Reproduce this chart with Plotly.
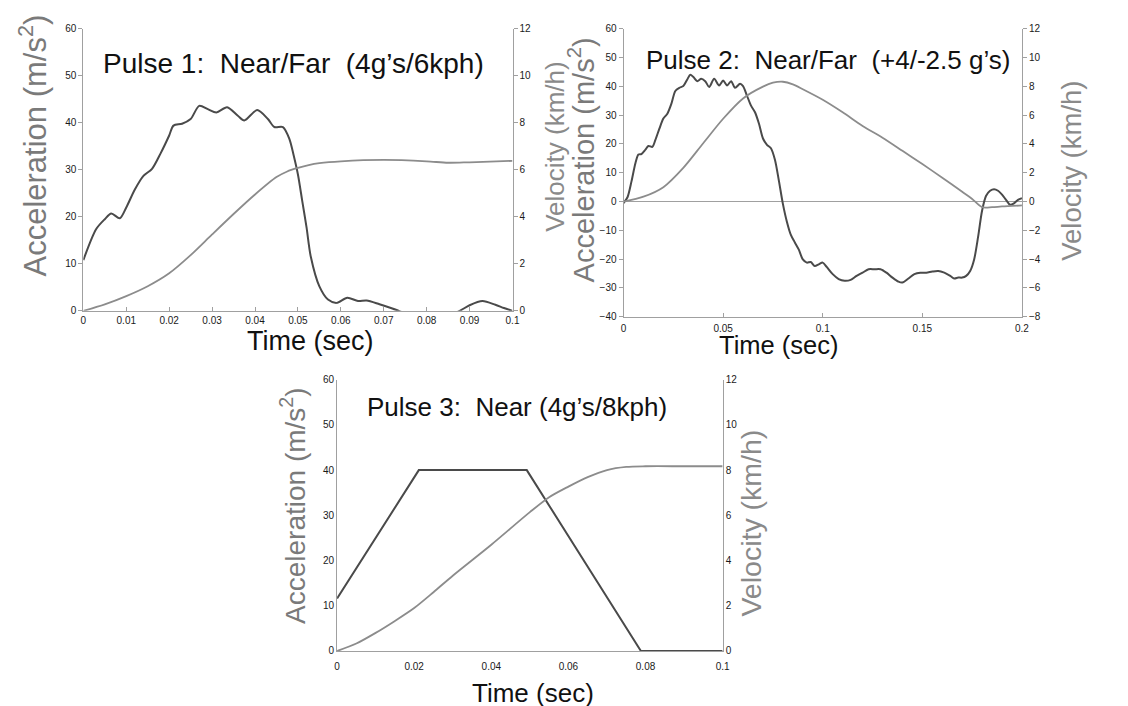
import plotly.graph_objects as go

# ---------------- Data ----------------
# Pulse 1
p1_acc_t = [0, 0.003, 0.005, 0.0065, 0.0085, 0.010, 0.012, 0.014, 0.016, 0.018, 0.020, 0.021, 0.023,
            0.025, 0.027, 0.029, 0.031, 0.0335, 0.036, 0.0375, 0.0405, 0.043, 0.0445, 0.0465, 0.048,
            0.049, 0.050, 0.051, 0.052, 0.053, 0.055, 0.057, 0.059, 0.0615, 0.064, 0.066, 0.069,
            0.072, 0.0735, 0.077, 0.081, 0.085, 0.0877, 0.090, 0.093, 0.096, 0.098, 0.100]
p1_acc = [10.8, 17.4, 19.5, 20.7, 19.7, 22.0, 25.8, 28.7, 30.2, 33.5, 37.3, 39.4, 39.8,
          40.8, 43.6, 42.9, 42.2, 43.3, 41.5, 40.5, 42.7, 40.8, 39.1, 39.1, 36.6,
          33.1, 29.0, 23.4, 17.8, 11.5, 5.2, 2.4, 1.7, 2.8, 2.1, 2.2, 1.4,
          0.5, 0.0, -1.2, -1.6, -1.0, 0.0, 1.2, 2.1, 1.3, 0.6, 0.0]
p1_vel_t = [0, 0.005, 0.010, 0.015, 0.020, 0.025, 0.030, 0.035, 0.040, 0.045, 0.0475, 0.050,
            0.0525, 0.055, 0.060, 0.070, 0.080, 0.085, 0.090, 0.100]
p1_vel = [0, 0.28, 0.63, 1.05, 1.6, 2.37, 3.25, 4.12, 4.95, 5.69, 5.93, 6.08,
          6.2, 6.28, 6.36, 6.42, 6.36, 6.3, 6.32, 6.38]

# Pulse 2
p2_acc_t = [0, 0.002, 0.004, 0.006, 0.0075, 0.009, 0.011, 0.0125, 0.0145, 0.016, 0.018, 0.020,
            0.022, 0.024, 0.026, 0.028, 0.030, 0.032, 0.0335, 0.035, 0.037, 0.039, 0.041, 0.043,
            0.0455, 0.048, 0.050, 0.052, 0.054, 0.056, 0.0585, 0.060, 0.062, 0.064, 0.066, 0.068,
            0.070, 0.072, 0.074, 0.076, 0.078, 0.080, 0.082, 0.084, 0.086, 0.088, 0.090, 0.092,
            0.094, 0.096, 0.098, 0.100, 0.102, 0.105, 0.108, 0.111, 0.114, 0.117, 0.120, 0.123,
            0.126, 0.129, 0.132, 0.135, 0.138, 0.140, 0.143, 0.146, 0.149, 0.152, 0.155, 0.158,
            0.161, 0.164, 0.166, 0.168, 0.170, 0.172, 0.174, 0.176, 0.178, 0.180, 0.182, 0.184,
            0.186, 0.188, 0.190, 0.192, 0.194, 0.196, 0.198, 0.200]
p2_acc = [-0.5, 1.5, 7.0, 13.4, 16.3, 16.5, 18.0, 19.3, 19.0, 21.4, 25.3, 28.8,
          30.5, 33.9, 38.4, 39.5, 40.1, 42.4, 44.0, 43.3, 41.8, 42.6, 41.8, 39.8,
          42.6, 40.3, 42.0, 40.3, 41.8, 39.5, 40.9, 40.1, 36.7, 33.3, 31.0, 27.0,
          21.9, 19.7, 18.5, 14.5, 7.2, -0.8, -7.0, -11.6, -14.2, -16.7, -20.1, -21.2,
          -21.0, -22.4, -21.8, -21.2, -22.7, -25.2, -26.9, -27.5, -27.2, -25.8, -24.7, -23.5,
          -23.5, -23.5, -24.7, -26.4, -27.8, -28.1, -26.7, -25.2, -24.7, -24.7, -24.3, -24.1,
          -24.7, -25.8, -26.7, -26.4, -26.4, -25.8, -24.1, -20.1, -12.2, -3.1, 2.0, 3.75,
          4.3, 3.75, 2.4, 0.6, -1.1, -0.6, 0.6, 1.2]
p2_vel_t = [0, 0.01, 0.02, 0.03, 0.04, 0.05, 0.06, 0.07, 0.075, 0.08, 0.085, 0.09, 0.10,
            0.11, 0.12, 0.13, 0.14, 0.15, 0.16, 0.17, 0.175, 0.18, 0.185, 0.19, 0.20]
p2_vel = [0, 0.34, 1.0, 2.34, 4.05, 5.75, 7.16, 7.98, 8.25, 8.32, 8.14, 7.8, 7.07,
          6.2, 5.25, 4.43, 3.52, 2.6, 1.66, 0.68, 0.18, -0.39, -0.39, -0.34, -0.27]

# Pulse 3
p3_acc_t = [0, 0.0212, 0.0492, 0.0788, 0.1]
p3_acc = [11.6, 40, 40, 0, 0]
p3_vel_t = [0, 0.005, 0.01, 0.015, 0.02, 0.025, 0.03, 0.04, 0.05, 0.055, 0.06, 0.065, 0.07,
            0.075, 0.08, 0.09, 0.1]
p3_vel = [0, 0.33, 0.8, 1.33, 1.9, 2.6, 3.33, 4.7, 6.14, 6.8, 7.27, 7.69, 8.0,
          8.14, 8.17, 8.17, 8.17]

titles = ["Pulse 1:  Near/Far  (4g\u2019s/6kph)",
          "Pulse 2:  Near/Far  (+4/-2.5 g\u2019s)",
          "Pulse 3:  Near (4g\u2019s/8kph)"]
acc_title = "Acceleration (m/s<sup>2</sup>)"
vel_title = "Velocity (km/h)"
time_title = "Time (sec)"

# ---------------- Styling ----------------
W, H = 1128, 706
FONT = "Arial, Liberation Sans, Helvetica, sans-serif"
ACC_C = "#4a4a4a"
VEL_C = "#8c8c8c"
AX_C = "#a0a0a0"
TICK_FONT = dict(family=FONT, size=10, color="#1a1a1a")


def px(x):
    return x / W


def py(y):
    return 1 - y / H


fig = go.Figure()

fig.add_trace(go.Scatter(x=p1_acc_t, y=p1_acc, mode="lines", xaxis="x", yaxis="y",
                         line=dict(color=ACC_C, width=2, shape="spline", smoothing=0.8)))
fig.add_trace(go.Scatter(x=p1_vel_t, y=p1_vel, mode="lines", xaxis="x", yaxis="y2",
                         line=dict(color=VEL_C, width=1.8, shape="spline", smoothing=0.8)))
fig.add_trace(go.Scatter(x=p2_acc_t, y=p2_acc, mode="lines", xaxis="x2", yaxis="y3",
                         line=dict(color=ACC_C, width=2, shape="spline", smoothing=0.8)))
fig.add_trace(go.Scatter(x=p2_vel_t, y=p2_vel, mode="lines", xaxis="x2", yaxis="y4",
                         line=dict(color=VEL_C, width=1.8, shape="spline", smoothing=0.8)))
fig.add_trace(go.Scatter(x=p3_acc_t, y=p3_acc, mode="lines", xaxis="x3", yaxis="y5",
                         line=dict(color=ACC_C, width=2)))
fig.add_trace(go.Scatter(x=p3_vel_t, y=p3_vel, mode="lines", xaxis="x3", yaxis="y6",
                         line=dict(color=VEL_C, width=1.8, shape="spline", smoothing=0.8)))


def xax(domain, rng, dtick, anchor, ticks="inside", standoff=0):
    return dict(domain=domain, range=rng, dtick=dtick, tick0=0, showgrid=False, zeroline=False,
                showline=True, linecolor=AX_C, linewidth=1, ticks=ticks, ticklen=4,
                tickcolor=AX_C, tickfont=TICK_FONT, anchor=anchor,
                ticklabelstandoff=standoff)


def yax(domain, rng, dtick, anchor, side="left", overlaying=None, zeroline=False, ticks="outside"):
    d = dict(range=rng, dtick=dtick, tick0=0, showgrid=False, zeroline=zeroline,
             zerolinecolor=AX_C, zerolinewidth=1,
             showline=True, linecolor=AX_C, linewidth=1, ticks=ticks, ticklen=4,
             tickcolor=AX_C, tickfont=TICK_FONT, anchor=anchor, side=side)
    if overlaying:
        d["overlaying"] = overlaying
    else:
        d["domain"] = domain
    return d


d1x = [px(73), px(506)]
d1y = [py(302), py(15)]
d2x = [px(618), px(1020)]
d2y = [py(308), py(15)]
d3x = [px(329), px(718)]
d3y = [py(648), py(372)]

fig.update_layout(
    width=W, height=H,
    margin=dict(l=0, r=0, t=0, b=0),
    paper_bgcolor="white", plot_bgcolor="white",
    showlegend=False,
    font=dict(family=FONT),
    xaxis=xax(d1x, [0, 0.1], 0.01, "y", standoff=0),
    yaxis=yax(d1y, [0, 60], 10, "x"),
    yaxis2=yax(None, [0, 12], 2, "x", side="right", overlaying="y"),
    xaxis2=xax(d2x, [0, 0.2], 0.05, "y3", standoff=2),
    yaxis3=yax(d2y, [-40, 60], 10, "x2", zeroline=True),
    yaxis4=yax(None, [-8, 12], 2, "x2", side="right", overlaying="y3"),
    xaxis3=xax(d3x, [0, 0.1], 0.02, "y5", ticks="", standoff=6),
    yaxis5=yax(d3y, [0, 60], 10, "x3", ticks=""),
    yaxis6=yax(None, [0, 12], 2, "x3", side="right", overlaying="y5", ticks=""),
)

ann = []


def text(t, x, y, size, color, angle=0):
    ann.append(dict(text=t, x=px(x), y=py(y), xref="paper", yref="paper",
                    xanchor="center", yanchor="middle", showarrow=False, textangle=angle,
                    font=dict(family=FONT, size=size, color=color)))


# Titles
text(titles[0], 285, 50, 28, "#111111")
text(titles[1], 824, 47, 26, "#111111")
text(titles[2], 511, 400, 26, "#111111")
# Acceleration axis titles
text(acc_title, 22, 134, 31, "#7a7a7a", -90)
text(acc_title, 576, 148, 29, "#7a7a7a", -90)
text(acc_title, 284, 500, 28, "#7a7a7a", -90)
# Velocity axis titles
text(vel_title, 549, 135, 26, "#8a8a8a", -90)
text(vel_title, 1070, 160, 27.5, "#8a8a8a", -90)
text(vel_title, 747, 518, 28.5, "#8a8a8a", -90)
# Time axis titles
text(time_title, 302, 333, 27, "#111111")
text(time_title, 774, 337, 25.5, "#111111")
text(time_title, 527, 691, 26, "#111111")

fig.update_layout(annotations=ann)

fig.write_html("out.html")
